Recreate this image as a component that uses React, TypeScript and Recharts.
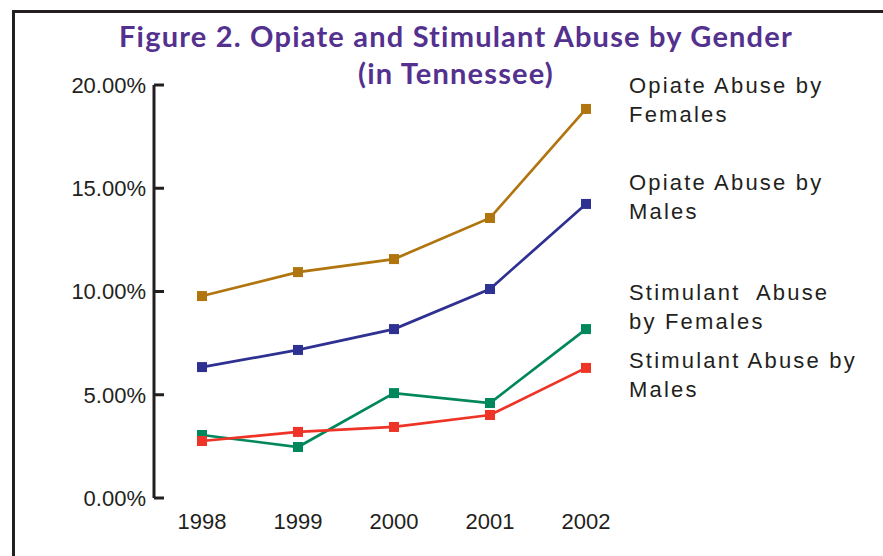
import React from 'react';
import { LineChart, Line, XAxis, YAxis } from 'recharts';

// Tennessee treatment admissions, share by substance and gender
const years = [1998, 1999, 2000, 2001, 2002];
const opiateFemales = [9.78, 10.94, 11.57, 13.56, 18.84];
const opiateMales = [6.34, 7.17, 8.18, 10.12, 14.24];
const stimulantFemales = [3.05, 2.47, 5.08, 4.6, 8.18];
const stimulantMales = [2.76, 3.2, 3.44, 4.02, 6.3];
const yTicks = [0, 5, 10, 15, 20];
const bandEdges = [1997.5, 1998.5, 1999.5, 2000.5, 2001.5, 2002.5];

const seriesNames = [
  'Opiate Abuse by\nFemales',
  'Opiate Abuse by\nMales',
  'Stimulant  Abuse\nby Females',
  'Stimulant Abuse by\nMales',
];
const seriesKeys = ['opiateF', 'opiateM', 'stimF', 'stimM'];
const colors = ['#b0750f', '#2e3192', '#00875c', '#ee3427'];
// where each label block sits next to the plot
const labelTops = [71, 168, 278, 346];

const data = years.map((year, i) => ({
  year,
  opiateF: opiateFemales[i],
  opiateM: opiateMales[i],
  stimF: stimulantFemales[i],
  stimM: stimulantMales[i],
}));

const ink = '#231f20';
const bodyFont = '"Liberation Sans", Arial, sans-serif';

const SquareDot = (props: any) => {
  const { cx, cy, fill } = props;
  if (cx == null || cy == null) return null;
  return <rect x={cx - 5} y={cy - 5} width={10} height={10} fill={fill} />;
};

export default function App() {
  return (
    <div
      style={{
        position: 'absolute',
        left: 0,
        top: 0,
        width: 883,
        height: 556,
        overflow: 'hidden',
        background: '#fff',
        fontFamily: bodyFont,
      }}
    >
      <div
        style={{
          position: 'absolute',
          left: 12,
          top: 10,
          width: 1000,
          height: 700,
          borderLeft: `3px solid ${ink}`,
          borderTop: `3px solid ${ink}`,
        }}
      />

      <div
        style={{
          position: 'absolute',
          left: 0,
          top: 17,
          width: 912,
          textAlign: 'center',
          fontFamily: 'Lato, sans-serif',
          fontWeight: 700,
          fontSize: 29,
          lineHeight: '37px',
          letterSpacing: 1.2,
          color: '#54318f',
        }}
      >
        Figure 2. Opiate and Stimulant Abuse by Gender
        <br />
        (in Tennessee)
      </div>

      <LineChart
        width={883}
        height={556}
        data={data}
        margin={{ top: 85, right: 249, bottom: 18, left: 0 }}
        style={{ position: 'absolute', left: 0, top: 0 }}
      >
        <XAxis
          xAxisId="edges"
          dataKey="year"
          type="number"
          domain={[1997.5, 2002.5]}
          ticks={bandEdges}
          tick={false}
          height={0}
          tickSize={-10}
          axisLine={{ stroke: ink, strokeWidth: 3 }}
          tickLine={{ stroke: ink, strokeWidth: 3 }}
        />
        <XAxis
          xAxisId="labels"
          dataKey="year"
          type="number"
          domain={[1997.5, 2002.5]}
          ticks={years}
          height={40}
          axisLine={false}
          tickLine={false}
          tickSize={6}
          tickMargin={9}
          tick={{ fill: ink, fontSize: 22, fontFamily: bodyFont }}
        />
        <YAxis
          width={154}
          domain={[0, 20]}
          ticks={yTicks}
          tickSize={-10}
          tickMargin={18}
          tickFormatter={(v: number) => `${v.toFixed(2)}%`}
          axisLine={{ stroke: ink, strokeWidth: 3 }}
          tickLine={{ stroke: ink, strokeWidth: 3 }}
          tick={{ fill: ink, fontSize: 22, fontFamily: bodyFont }}
        />
        {seriesKeys.map((key, i) => (
          <Line
            key={key}
            xAxisId="edges"
            dataKey={key}
            type="linear"
            stroke={colors[i]}
            strokeWidth={2.7}
            dot={<SquareDot fill={colors[i]} />}
            activeDot={false}
            isAnimationActive={false}
          />
        ))}
      </LineChart>

      {seriesNames.map((name, i) => (
        <div
          key={name}
          style={{
            position: 'absolute',
            left: 629,
            top: labelTops[i],
            whiteSpace: 'pre',
            fontSize: 22,
            lineHeight: '29px',
            letterSpacing: 2.2,
            color: ink,
          }}
        >
          {name}
        </div>
      ))}
    </div>
  );
}
